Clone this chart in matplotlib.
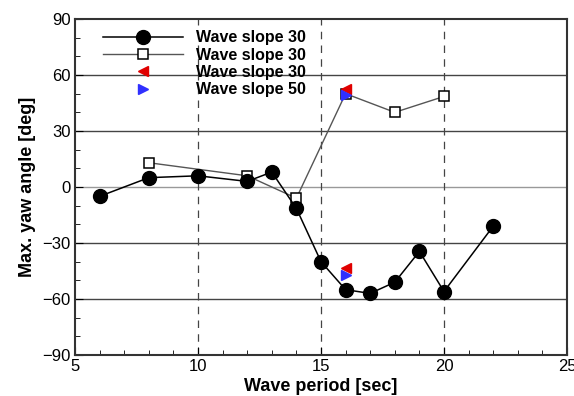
import matplotlib.pyplot as plt
from matplotlib.ticker import MultipleLocator

plt.rcParams['font.family'] = ['Liberation Sans', 'DejaVu Sans']

# black circles - wave slope 30
period_a = [6, 8, 10, 12, 13, 14, 15, 16, 17, 18, 19, 20, 22]
yaw_a = [-5, 5, 6, 3, 8, -11.5, -40, -55, -57, -51, -34.5, -56, -21]

# open squares - wave slope 30
period_b = [8, 12, 14, 16, 18, 20]
yaw_b = [13, 6, -6, 50, 40, 48.5]

# red left triangles - wave slope 30
period_c = [16, 16]
yaw_c = [52.5, -43.5]

# blue right triangles - wave slope 50
period_d = [16, 16]
yaw_d = [49.5, -47]

fig = plt.figure(figsize=(5.74, 3.96), dpi=100)
ax = fig.add_axes([75 / 574, 1 - 355 / 396, 492 / 574, 336 / 396])

ax.plot(period_a, yaw_a, color='black', lw=1.1, marker='o', ms=10,
        label='Wave slope 30', zorder=4)
ax.plot(period_b, yaw_b, color='#555555', lw=1.0, marker='s', ms=7,
        mfc='white', mec='black', mew=1.1, label='Wave slope 30', zorder=3)
ax.plot(period_c, yaw_c, ls='none', marker='<', ms=6.5, color='#e00000',
        label='Wave slope 30', zorder=5)
ax.plot(period_d, yaw_d, ls='none', marker='>', ms=6.5, color='#3030ff',
        label='Wave slope 50', zorder=6)

ax.set_xlim(5, 25)
ax.set_ylim(-90, 90)
ax.xaxis.set_major_locator(MultipleLocator(5))
ax.xaxis.set_minor_locator(MultipleLocator(1))
ax.yaxis.set_major_locator(MultipleLocator(30))
ax.yaxis.set_minor_locator(MultipleLocator(10))

# grid: solid horizontal, dashed vertical
for y in [-60, -30, 0, 30, 60]:
    ax.axhline(y, color='#444444' if y != 0 else '#999999', lw=1.0, zorder=1)
for x in [10, 15, 20]:
    ax.axvline(x, color='#444444', lw=0.9, ls=(0, (6, 5)), zorder=1)

ax.tick_params(which='both', direction='in', top=False, right=False,
               labelsize=12)
ax.tick_params(which='major', length=6, pad=3)
ax.tick_params(which='minor', length=3.5)
for s in ax.spines.values():
    s.set_linewidth(1.5)
    s.set_color('#333333')

ax.set_xlabel('Wave period [sec]', fontsize=13, fontweight='bold', labelpad=3)
ax.set_ylabel('Max. yaw angle [deg]', fontsize=13, fontweight='bold', labelpad=5)

ax.legend(loc='upper left', bbox_to_anchor=(0.035, 1.0), frameon=False,
          prop={'weight': 'bold', 'size': 11.5}, handlelength=5.0,
          handletextpad=0.8, labelspacing=0.15, borderaxespad=0.3)

fig.savefig('out.png', dpi=100)
